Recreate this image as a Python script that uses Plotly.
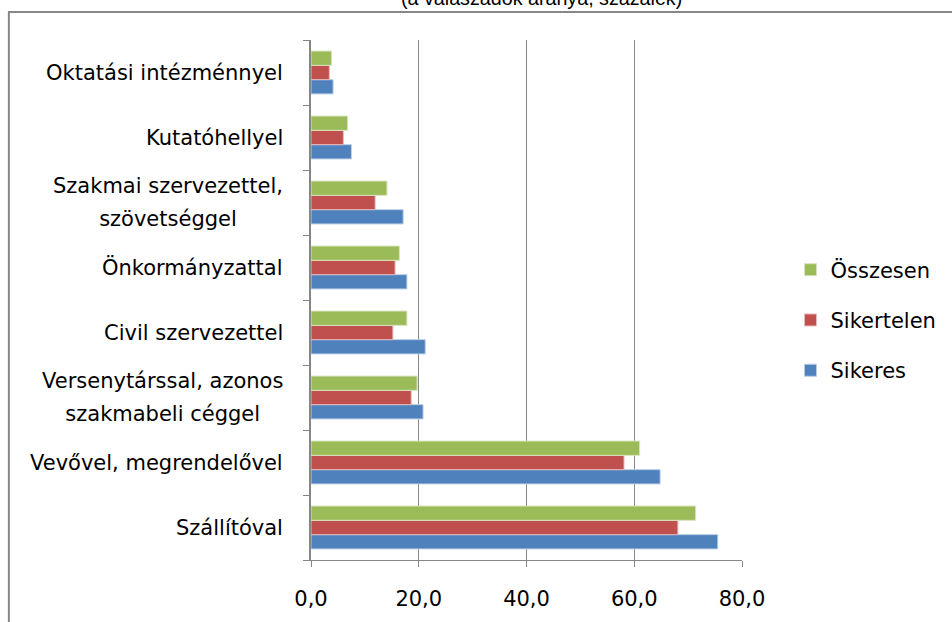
import plotly.graph_objects as go

# Categories, bottom to top
categories = [
    "Szállítóval",
    "Vevővel, megrendelővel",
    "Versenytárssal, azonos<br>szakmabeli céggel",
    "Civil szervezettel",
    "Önkormányzattal",
    "Szakmai szervezettel,<br>szövetséggel",
    "Kutatóhellyel",
    "Oktatási intézménnyel",
]
sikeres = [75.5, 64.8, 20.8, 21.2, 17.8, 17.1, 7.5, 4.1]
sikertelen = [68.1, 58.1, 18.6, 15.2, 15.6, 11.9, 6.0, 3.4]
osszesen = [71.4, 61.0, 19.7, 17.8, 16.4, 14.1, 6.8, 3.8]
x_ticks = [0, 20, 40, 60, 80]

series = [
    ("Sikeres", sikeres, "#4F81BD", "#B9CDE5"),
    ("Sikertelen", sikertelen, "#C0504D", "#E6B9B8"),
    ("Összesen", osszesen, "#9BBB59", "#D7E4BD"),
]

fig = go.Figure()
for i, (name, vals, col, edge) in enumerate(series):
    fig.add_trace(go.Bar(
        y=categories, x=vals, name=name, orientation="h",
        marker=dict(color=col, line=dict(color=edge, width=1)),
        legendgroup=f"g{i}", legendrank=len(series) - i,
    ))

label_font = dict(family="DejaVu Sans", size=21, color="#000000")
axis_grey = "#868686"

# Category labels: the outer font size sets the line spacing,
# the inner span sets the glyph size.
annotations = []
for c in categories:
    lines = c.split("<br>")
    txt = "<br>".join(f"<span style='font-size:21px'>{ln}</span>" for ln in lines)
    annotations.append(dict(
        x=0, xref="x", y=c, yref="y", text=txt, showarrow=False,
        xanchor="right", yanchor="middle", align="center", xshift=-26,
        font=dict(family="DejaVu Sans", size=25, color="#000000"),
    ))
annotations.append(dict(
    x=0.535, xref="paper", y=1.0577, yref="paper",
    text="(a válaszadók aránya, százalék)", showarrow=False,
    xanchor="center", yanchor="bottom", borderpad=0,
    font=dict(family="Liberation Sans", size=19.7, color="#000000"),
))

fig.update_layout(
    width=952, height=622,
    margin=dict(l=311, r=209, t=40, b=62),
    paper_bgcolor="white", plot_bgcolor="white",
    barmode="group", bargap=0.34, bargroupgap=0,
    separators=", ",
    showlegend=True,
    legend=dict(
        traceorder="grouped", tracegroupgap=20,
        x=1.11, xanchor="left", y=0.4615, yanchor="middle",
        font=label_font, itemwidth=30,
    ),
    xaxis=dict(
        range=[0, 80], tickvals=x_ticks, tickformat=".1f",
        showgrid=True, gridcolor=axis_grey, gridwidth=1,
        showline=True, linecolor=axis_grey, linewidth=1,
        ticks="outside", ticklen=6, tickcolor=axis_grey,
        ticklabelstandoff=14,
        tickfont=label_font, zeroline=False, fixedrange=True,
    ),
    yaxis=dict(
        type="category", categoryorder="array", categoryarray=categories,
        showticklabels=False, showgrid=False,
        showline=True, linecolor=axis_grey, linewidth=2,
        ticks="outside", ticklen=6, tickcolor=axis_grey, tickson="boundaries",
        zeroline=False, fixedrange=True,
    ),
    annotations=annotations,
    shapes=[dict(
        type="rect", xref="paper", yref="paper",
        x0=-0.701, x1=1.52, y0=-0.14, y1=1.0538,
        line=dict(color="#878787", width=2), fillcolor="rgba(0,0,0,0)",
        layer="below",
    )],
)

fig.write_html("out.html")
